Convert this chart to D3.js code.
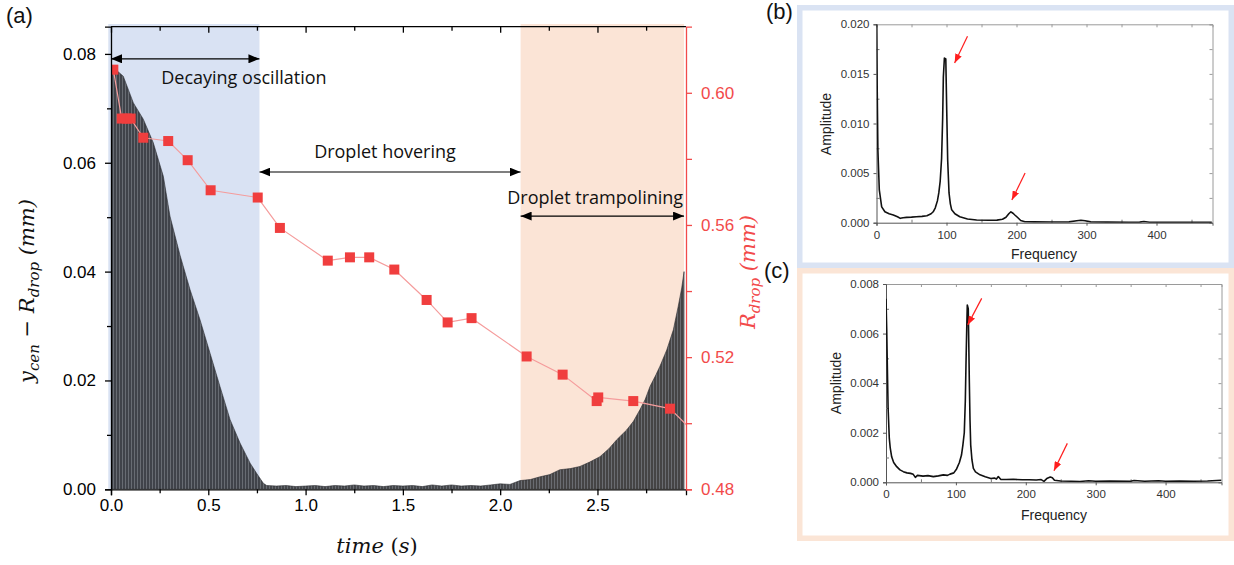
<!DOCTYPE html>
<html lang="en">
<head>
<meta charset="UTF-8">
<title>Droplet oscillation and spectra</title>
<script src="https://d3js.org/d3.v7.min.js"></script>
<style>
  body { margin: 0; background: #fff; }
  svg { display: block; }
  .main .tick text { font-family: 'Liberation Sans', Arial, sans-serif; font-size: 17px; }
  .spec .tick text { font-family: 'Liberation Sans', Arial, sans-serif; font-size: 11.5px; fill: #333; }
  .note { font-family: 'Open Sans', sans-serif; font-size: 18px; fill: #111; }
  .math { font-family: 'DejaVu Serif', serif; font-style: italic; font-size: 21px; }
  .panel-label { font-family: 'Liberation Sans', Arial, sans-serif; font-size: 22px; fill: #111; }
  .spec-title { font-family: 'Liberation Sans', Arial, sans-serif; font-size: 14px; fill: #222; }
</style>
</head>
<body>
<svg id="fig" width="1234" height="565"></svg>
<script>
// ---- panel (a): oscillation envelope y_cen - R_drop (mm) vs time (s)
const envTime = [0, 0.012, 0.063, 0.115, 0.166, 0.217, 0.269, 0.303, 0.354, 0.406, 0.457, 0.509, 0.560, 0.612, 0.663, 0.715, 0.749, 0.783,
  0.80, 0.85, 0.90, 0.95, 1.00, 1.05, 1.10, 1.15, 1.20, 1.25, 1.30, 1.35, 1.40, 1.45, 1.50, 1.55, 1.60, 1.65, 1.70, 1.75, 1.80, 1.85, 1.90, 1.95, 2.00, 2.05,
  2.102, 2.155, 2.205, 2.255, 2.307, 2.36, 2.410, 2.46, 2.513, 2.56, 2.599, 2.650, 2.685, 2.718, 2.745, 2.770, 2.80, 2.821, 2.856, 2.890, 2.915, 2.933, 2.945];
const envAmp = [0.0772, 0.0775, 0.0759, 0.0710, 0.0680, 0.0637, 0.0575, 0.0502, 0.0431, 0.0367, 0.0312, 0.0250, 0.0189, 0.0128, 0.0085, 0.0048, 0.0029, 0.0011,
  0.0007, 0.0006, 0.0007, 0.0005, 0.0006, 0.0007, 0.0005, 0.0007, 0.0006, 0.0008, 0.0006, 0.0007, 0.0005, 0.0007, 0.0006, 0.0007, 0.0005, 0.0008, 0.0006, 0.0008, 0.0006, 0.0007, 0.0006, 0.0008, 0.0010, 0.0009,
  0.0016, 0.0018, 0.0023, 0.0027, 0.0036, 0.0038, 0.0042, 0.0050, 0.0060, 0.0075, 0.0091, 0.0109, 0.0125, 0.0146, 0.0165, 0.0189, 0.0210, 0.0226, 0.0256, 0.0293, 0.0336, 0.0370, 0.0400];

// droplet radius R_drop (mm)
const radTime = [0.012, 0.055, 0.081, 0.101, 0.166, 0.294, 0.394, 0.512, 0.754, 0.868, 1.114, 1.228, 1.327, 1.456, 1.622, 1.730, 1.853, 2.136, 2.321, 2.496, 2.504, 2.684, 2.873, 3.0];
const radius = [0.607, 0.5922, 0.5922, 0.5922, 0.5864, 0.5854, 0.5796, 0.5705, 0.5683, 0.5591, 0.5492, 0.5502, 0.5502, 0.5465, 0.5373, 0.5305, 0.5318, 0.5202, 0.5147, 0.5067, 0.5078, 0.5067, 0.5044, 0.497];

const bandDecay = [-0.014, 0.763];
const bandTrampoline = [2.105, 2.945];

const xMajor = [0, 0.5, 1.0, 1.5, 2.0, 2.5];
const xMinor = [0.25, 0.75, 1.25, 1.75, 2.25, 2.75];
const yLMajor = [0, 0.02, 0.04, 0.06, 0.08];
const yLMinor = [0.01, 0.03, 0.05, 0.07];
const yRMajor = [0.48, 0.52, 0.56, 0.60];
const yRMinor = [0.50, 0.54, 0.58];

// ---- panel (b): spectrum of decaying oscillation
const bFreq = [0, 1, 2, 4, 7.4, 12, 18, 24, 30, 34, 38, 43, 50, 57, 65, 72, 78, 81, 84, 87, 89, 91, 93, 94.5, 95.5, 97, 99, 100.3, 101.7, 103.6, 105.5, 107.4, 112, 119, 130, 143, 160, 172, 180, 185, 189, 192, 195, 198, 202, 206, 212, 225, 250, 275, 286, 292, 298, 306, 330, 360, 376, 382, 390, 420, 450, 479];
const bAmp = [0.0205, 0.0135, 0.0073, 0.0033, 0.0016, 0.0011, 0.0009, 0.00078, 0.0006, 0.00044, 0.0005, 0.00054, 0.00056, 0.0006, 0.00064, 0.0007, 0.0009, 0.0011, 0.0015, 0.0022, 0.003, 0.0042, 0.0065, 0.0105, 0.0147, 0.0166, 0.0165, 0.0114, 0.0063, 0.0030, 0.0019, 0.0013, 0.0009, 0.0006, 0.00038, 0.00027, 0.00024, 0.00026, 0.00035, 0.00055, 0.0009, 0.0011, 0.00095, 0.00075, 0.0005, 0.00022, 0.0001, 0.00008, 0.00007, 0.00008, 0.0002, 0.00025, 0.0002, 0.00008, 0.00006, 0.00005, 0.00006, 0.00012, 0.00005, 0.00005, 0.00004, 0.00005];

// ---- panel (c): spectrum of trampolining
const cFreq = [0, 1, 1.9, 3, 4.7, 6, 8.1, 11, 15.3, 20, 24.8, 30, 35, 39, 42, 45, 53, 60, 67.7, 75, 82, 88, 91.6, 97, 101, 105, 108, 110, 112, 113.5, 114.4, 115.5, 116.3, 117.7, 119.2, 120.2, 121.2, 123, 125, 128, 134.5, 142, 150, 155, 158, 160.7, 164, 172, 182, 195, 205, 215, 222, 226, 230, 235, 238, 241, 250, 265, 277.5, 290, 300, 320, 350, 355, 370, 390, 400, 420, 440, 460, 480];
const cAmp = [0.0074, 0.0062, 0.0047, 0.003, 0.00178, 0.0014, 0.00103, 0.0008, 0.00063, 0.0005, 0.00043, 0.00038, 0.00036, 0.00032, 0.0002, 0.00028, 0.00025, 0.00027, 0.00023, 0.00026, 0.0003, 0.00028, 0.00033, 0.00038, 0.00054, 0.0008, 0.0011, 0.0015, 0.002, 0.0033, 0.0047, 0.0062, 0.00715, 0.0070, 0.0041, 0.0025, 0.0015, 0.0009, 0.00056, 0.00042, 0.0003, 0.00022, 0.00015, 0.00017, 0.00013, 0.00023, 0.00012, 0.00011, 0.00012, 0.0001, 0.0001, 0.00009, 0.00011, 0.00004, 0.00015, 0.00021, 0.00018, 0.00008, 0.00005, 0.00004, 0.00003, 0.00006, 0.00004, 0.00005, 0.00004, 0.00007, 0.00004, 0.00006, 0.00004, 0.00005, 0.00004, 0.00005, 0.00008];

const specXTicks = [0, 100, 200, 300, 400];
const specXMinor = [50, 150, 250, 350, 450];
const bYTicks = [0, 0.005, 0.010, 0.015, 0.020];
const bYMinor = [0.0025, 0.0075, 0.0125, 0.0175];
const cYTicks = [0, 0.002, 0.004, 0.006, 0.008];
const cYMinor = [0.001, 0.003, 0.005, 0.007];

const red = "#f24a4a";
const svg = d3.select("#fig");
const defs = svg.append("defs");

// ===================== panel (a) =====================
const main = svg.append("g").attr("class", "main");
const x = d3.scaleLinear().domain([0, 2.955]).range([111, 686]);
const yL = d3.scaleLinear().domain([0, 0.085]).range([489.3, 26.7]);
const yR = d3.scaleLinear().domain([0.48, 0.62]).range([489.3, 26.7]);

defs.append("clipPath").attr("id", "plotClip")
  .append("rect").attr("x", 111).attr("y", 26.7).attr("width", 575).attr("height", 462.6);

// fine vertical stripes to mimic the dense oscillation
const pat = defs.append("pattern").attr("id", "stripes")
  .attr("patternUnits", "userSpaceOnUse").attr("width", 3).attr("height", 10);
pat.append("rect").attr("width", 3).attr("height", 10).attr("fill", "rgba(34,37,42,0.84)");
pat.append("rect").attr("x", 2).attr("width", 1).attr("height", 10).attr("fill", "rgba(130,136,144,0.6)");

// shaded regimes
main.append("rect")
  .attr("x", x(bandDecay[0])).attr("y", 24)
  .attr("width", x(bandDecay[1]) - x(bandDecay[0])).attr("height", yL(0) - 24)
  .attr("fill", "#d9e2f3");
main.append("rect")
  .attr("x", x(bandTrampoline[0])).attr("y", 24)
  .attr("width", x(bandTrampoline[1]) - x(bandTrampoline[0])).attr("height", yL(0) - 24)
  .attr("fill", "#fbe4d6");

const envData = envTime.map((t, i) => ({ t, v: envAmp[i] }));
envData.push({ t: envTime[envTime.length - 1], v: 0 });
main.append("path")
  .datum(envData)
  .attr("clip-path", "url(#plotClip)")
  .attr("fill", "url(#stripes)")
  .attr("stroke", "#2a2c30").attr("stroke-width", 0.6)
  .attr("d", d3.area().x(d => x(d.t)).y0(yL(0)).y1(d => yL(d.v)));

// radius series
const radData = radTime.map((t, i) => ({ t, r: radius[i] }));
const rg = main.append("g").attr("clip-path", "url(#plotClip)");
rg.append("path")
  .datum(radData)
  .attr("fill", "none").attr("stroke", "#f59c9c").attr("stroke-width", 1.2)
  .attr("d", d3.line().x(d => x(d.t)).y(d => yR(d.r)));
rg.selectAll("rect.pt")
  .data(radData)
  .enter().append("rect")
  .attr("class", "pt")
  .attr("x", d => x(d.t) - 5).attr("y", d => yR(d.r) - 5)
  .attr("width", 10).attr("height", 10)
  .attr("fill", "#f03e3e");

// double arrows
defs.append("marker").attr("id", "head")
  .attr("markerUnits", "userSpaceOnUse")
  .attr("markerWidth", 11).attr("markerHeight", 9)
  .attr("refX", 11).attr("refY", 4.5)
  .attr("orient", "auto-start-reverse")
  .append("path").attr("d", "M0,0L11,4.5L0,9Z").attr("fill", "#000");

const spans = [
  { t0: 0, t1: bandDecay[1], v: 0.0791 },
  { t0: bandDecay[1], t1: bandTrampoline[0], v: 0.0583 },
  { t0: bandTrampoline[0], t1: bandTrampoline[1], v: 0.0502 }
];
main.selectAll("line.span")
  .data(spans)
  .enter().append("line")
  .attr("x1", d => x(d.t0)).attr("x2", d => x(d.t1))
  .attr("y1", d => yL(d.v)).attr("y2", d => yL(d.v))
  .attr("stroke", "#000").attr("stroke-width", 1.2)
  .attr("marker-start", "url(#head)").attr("marker-end", "url(#head)");

const notes = [
  { t: 0.683, v: 0.0744, text: "Decaying oscillation", anchor: "middle" },
  { t: 1.408, v: 0.0608, text: "Droplet hovering", anchor: "middle" },
  { t: 2.94, v: 0.0525, text: "Droplet trampolining", anchor: "end" }
];
main.selectAll("text.note")
  .data(notes)
  .enter().append("text")
  .attr("class", "note")
  .attr("x", d => x(d.t)).attr("y", d => yL(d.v))
  .attr("text-anchor", d => d.anchor)
  .text(d => d.text);

// axes
main.append("g").attr("transform", `translate(0,${yL(0)})`)
  .call(d3.axisBottom(x).tickValues(xMajor).tickSize(6).tickPadding(4).tickFormat(d3.format(".1f")));
main.append("g").attr("transform", `translate(0,${yL(0)})`)
  .call(d3.axisBottom(x).tickValues(xMinor).tickSize(4).tickFormat(""))
  .select(".domain").remove();
main.append("g").attr("transform", `translate(0,${yL.range()[1]})`)
  .call(d3.axisBottom(x).tickValues(xMajor).tickSize(6).tickFormat(""))
  .call(g => g.select(".domain").attr("d", `M${x.range()[0]},0H${x.range()[1]}`));
main.append("g").attr("transform", `translate(0,${yL.range()[1]})`)
  .call(d3.axisBottom(x).tickValues(xMinor).tickSize(4).tickFormat(""))
  .select(".domain").remove();

main.append("g").attr("transform", `translate(${x(0)},0)`)
  .call(d3.axisLeft(yL).tickValues(yLMajor).tickSize(6).tickPadding(9).tickFormat(d3.format(".2f")));
main.append("g").attr("transform", `translate(${x(0)},0)`)
  .call(d3.axisLeft(yL).tickValues(yLMinor).tickSize(4).tickFormat(""))
  .select(".domain").remove();

const rAx = main.append("g").attr("transform", `translate(${x.range()[1]},0)`)
  .call(d3.axisRight(yR).tickValues(yRMajor).tickSize(6).tickPadding(9).tickFormat(d3.format(".2f")));
const rAxMinor = main.append("g").attr("transform", `translate(${x.range()[1]},0)`)
  .call(d3.axisRight(yR).tickValues(yRMinor).tickSize(6).tickFormat(""));
rAxMinor.select(".domain").remove();
[rAx, rAxMinor].forEach(g => {
  g.selectAll("line, path").attr("stroke", red).attr("stroke-width", 1.3);
  g.selectAll("text").attr("fill", red);
});
main.selectAll(".tick line, .domain").filter(function () { return d3.select(this).attr("stroke") !== red; })
  .attr("stroke-width", 1.3);

// axis titles
const yTitle = main.append("text").attr("class", "math")
  .attr("transform", `translate(34,${291}) rotate(-90)`)
  .attr("text-anchor", "middle").attr("fill", "#111");
yTitle.append("tspan").text("y");
yTitle.append("tspan").attr("font-size", 15).attr("dy", 5).text("cen");
yTitle.append("tspan").attr("font-style", "normal").attr("dy", -5).text(" \u2212 ");
yTitle.append("tspan").text("R");
yTitle.append("tspan").attr("font-size", 15).attr("dy", 5).text("drop");
yTitle.append("tspan").attr("dy", -5).text(" (mm)");

const rTitle = main.append("text").attr("class", "math")
  .attr("transform", `translate(755,${272}) rotate(-90)`)
  .attr("text-anchor", "middle").attr("fill", red);
rTitle.append("tspan").text("R");
rTitle.append("tspan").attr("font-size", 15).attr("dy", 5).text("drop");
rTitle.append("tspan").attr("dy", -5).text(" (mm)");

const xTitle = main.append("text").attr("class", "math")
  .attr("x", 377).attr("y", 553).attr("text-anchor", "middle").attr("fill", "#111");
xTitle.append("tspan").text("time ");
xTitle.append("tspan").attr("font-style", "normal").text("(");
xTitle.append("tspan").text("s");
xTitle.append("tspan").attr("font-style", "normal").text(")");

svg.append("text").attr("class", "panel-label").attr("x", 6).attr("y", 23).text("(a)");

// ===================== spectra (b), (c) =====================
function spectrum(opt) {
  const g = svg.append("g").attr("class", "spec");
  g.append("rect")
    .attr("x", opt.box[0] + 2.75).attr("y", opt.box[1] + 2.75)
    .attr("width", opt.box[2] - opt.box[0] - 5.5).attr("height", opt.box[3] - opt.box[1] - 5.5)
    .attr("fill", "#fff").attr("stroke", opt.border).attr("stroke-width", 5.5);

  const sx = d3.scaleLinear().domain([0, 480]).range(opt.xr);
  const sy = d3.scaleLinear().domain(opt.yd).range(opt.yr);
  const clipId = opt.id + "Clip";
  defs.append("clipPath").attr("id", clipId).append("rect")
    .attr("x", opt.xr[0]).attr("y", opt.yr[1])
    .attr("width", opt.xr[1] - opt.xr[0]).attr("height", opt.yr[0] - opt.yr[1]);

  // frame top/right with inward ticks
  const frame = "#9a9a9a";
  g.append("g").attr("transform", `translate(0,${opt.yr[1]})`)
    .call(d3.axisBottom(sx).tickValues(specXTicks.concat(specXMinor)).tickSize(3).tickFormat(""))
    .call(a => a.selectAll("line, path").attr("stroke", frame));
  g.append("g").attr("transform", `translate(${opt.xr[1]},0)`)
    .call(d3.axisLeft(sy).tickValues(opt.yt.concat(opt.ym)).tickSize(3).tickFormat(""))
    .call(a => a.selectAll("line, path").attr("stroke", frame));

  // bottom / left axes
  g.append("g").attr("transform", `translate(0,${opt.yr[0]})`)
    .call(d3.axisBottom(sx).tickValues(specXTicks).tickSize(3).tickPadding(5).tickFormat(d3.format("d")))
    .call(a => a.selectAll("line, path").attr("stroke", "#555"));
  g.append("g").attr("transform", `translate(0,${opt.yr[0]})`)
    .call(d3.axisTop(sx).tickValues(specXMinor).tickSize(3).tickFormat(""))
    .call(a => { a.select(".domain").remove(); a.selectAll("line").attr("stroke", "#777"); });
  g.append("g").attr("transform", `translate(${opt.xr[0]},0)`)
    .call(d3.axisLeft(sy).tickValues(opt.yt).tickSize(3).tickPadding(4).tickFormat(d3.format(".3f")))
    .call(a => a.selectAll("line, path").attr("stroke", "#555"));
  g.append("g").attr("transform", `translate(${opt.xr[0]},0)`)
    .call(d3.axisRight(sy).tickValues(opt.ym).tickSize(3).tickFormat(""))
    .call(a => { a.select(".domain").remove(); a.selectAll("line").attr("stroke", "#777"); });

  const data = opt.f.map((f, i) => ({ f, a: opt.a[i] }));
  g.append("path").datum(data)
    .attr("clip-path", `url(#${clipId})`)
    .attr("fill", "none").attr("stroke", "#111").attr("stroke-width", 1.6)
    .attr("stroke-linejoin", "round")
    .attr("d", d3.line().x(d => sx(d.f)).y(d => sy(d.a)));

  // red arrows
  const mid = opt.id + "Head";
  defs.append("marker").attr("id", mid)
    .attr("markerUnits", "userSpaceOnUse")
    .attr("markerWidth", 9).attr("markerHeight", 7)
    .attr("refX", 9).attr("refY", 3.5).attr("orient", "auto")
    .append("path").attr("d", "M0,0L9,3.5L0,7Z").attr("fill", "#ff1e1e");
  g.selectAll("line.arrow").data(opt.arrows).enter().append("line")
    .attr("x1", d => sx(d[0])).attr("y1", d => sy(d[1]))
    .attr("x2", d => sx(d[2])).attr("y2", d => sy(d[3]))
    .attr("stroke", "#ff1e1e").attr("stroke-width", 1.2)
    .attr("marker-end", `url(#${mid})`);

  g.append("text").attr("class", "spec-title")
    .attr("transform", `translate(${opt.ylabel[0]},${opt.ylabel[1]}) rotate(-90)`)
    .attr("text-anchor", "middle").text("Amplitude");
  g.append("text").attr("class", "spec-title")
    .attr("x", opt.xlabel[0]).attr("y", opt.xlabel[1])
    .attr("text-anchor", "middle").text("Frequency");
  svg.append("text").attr("class", "panel-label")
    .attr("x", opt.tag[0]).attr("y", opt.tag[1]).text(opt.tag[2]);
}

spectrum({
  id: "b", box: [797, 5, 1234, 268], border: "#dae3f3",
  xr: [876.5, 1212.5], yr: [222.7, 24.3], yd: [0, 0.020],
  yt: bYTicks, ym: bYMinor, f: bFreq, a: bAmp,
  arrows: [[130, 0.0188, 111.6, 0.0161], [212.3, 0.0050, 193.4, 0.0023]],
  ylabel: [831, 124], xlabel: [1044, 259], tag: [766, 19, "(b)"]
});
spectrum({
  id: "c", box: [797, 268, 1234, 541], border: "#fbe5d6",
  xr: [886, 1221.5], yr: [482.3, 284], yd: [0, 0.008],
  yt: cYTicks, ym: cYMinor, f: cFreq, a: cAmp,
  arrows: [[136.9, 0.00742, 116.9, 0.00635], [259.4, 0.00157, 240.3, 0.00047]],
  ylabel: [841, 383], xlabel: [1054, 520], tag: [764, 278, "(c)"]
});
</script>
</body>
</html>
